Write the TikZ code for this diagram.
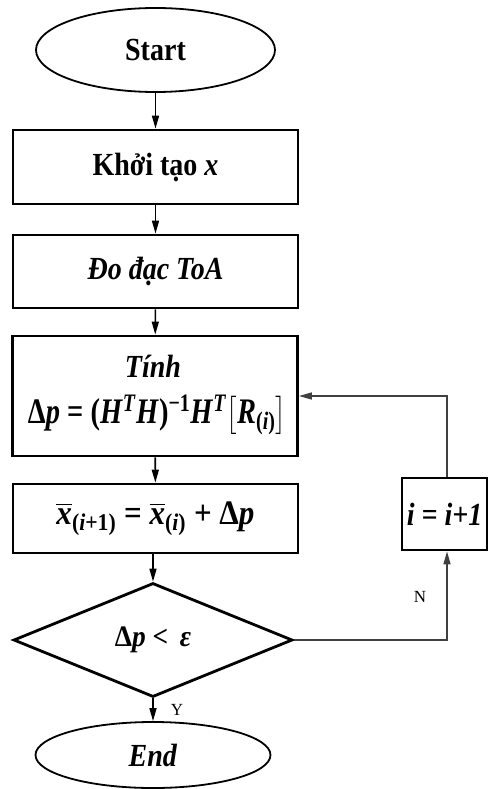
\documentclass[tikz,border=0pt]{standalone}
\usepackage{amsmath,graphicx}
\usepackage{fontspec}
\setmainfont{Liberation Serif}
\usetikzlibrary{shapes.geometric,arrows.meta}
\newcommand{\tall}[1]{\scalebox{1}[1.15]{#1}}
\newcommand{\xbar}{$\overline{\mbox{\textit{x}}}$}
\begin{document}
\begin{tikzpicture}[x=1pt,y=-1pt,
  big/.style={font=\fontsize{28}{32}\selectfont\bfseries},
  procbox/.style={draw,line width=2.8pt,rectangle,inner sep=0pt,big},
  term/.style={draw,line width=1.8pt,ellipse,inner sep=0pt,big},
  decide/.style={draw,line width=2.8pt,diamond,inner sep=0pt,big},
  flow/.style={line width=1.6pt,-{Triangle[length=13pt,width=7pt]}},
  loop/.style={line width=1.5pt,draw=black!75,-{Triangle[length=13pt,width=7pt]}},
  lab/.style={font=\fontsize{17}{19}\selectfont}
]
\useasboundingbox (0,0) rectangle (487,789);
\node[term,minimum width=239pt,minimum height=84pt] (start) at (155.5,50) {\tall{Start}};
\node[procbox,minimum width=285pt,minimum height=74pt] (init) at (155.5,167) {\tall{Khởi tạo \textit{x}}};
\node[procbox,minimum width=285pt,minimum height=73pt] (meas) at (155.5,271.5) {\tall{\textit{Đo đạc ToA}}};
\node[procbox,minimum width=285pt,minimum height=120pt] (calc) at (155,396) {};
\node[big] (calct) at (153,366) {\tall{\textit{Tính}}};
\node[big] (calcf) at (157,415) {\resizebox*{258pt}{40pt}{Δ\textit{p} = (\textit{H}\textsuperscript{\textit{T}}\textit{H})\textsuperscript{−1}\textit{H}\textsuperscript{\textit{T}}$\bigl[$\textit{R}\textsubscript{(\textit{i})}$\bigr]$}};
\node[procbox,minimum width=285pt,minimum height=69pt] (upd) at (155.5,518.5)
  {\resizebox*{198pt}{34pt}{\xbar\textsubscript{(\textit{i}+1)} = \xbar\textsubscript{(\textit{i})} + Δ\textit{p}}};
\node[decide,minimum width=279pt,minimum height=114pt] (dec) at (153,640) {\resizebox*{76pt}{26pt}{Δ\textit{p} <\, \textit{ε}}};
\node[term,minimum width=235pt,minimum height=66pt] (end) at (153,755) {\tall{\textit{End}}};
\node[procbox,minimum width=85pt,minimum height=72pt] (inc) at (444.5,514) {\tall{\textit{i = i+1}}};
\draw[flow] (start) -- (init);
\draw[flow] (init) -- (meas);
\draw[flow] (meas) -- (calc);
\draw[flow] (calc) -- (upd);
\draw[flow] (upd.south -| dec.north) -- (dec.north);
\draw[flow] (dec) -- (end);
\draw[loop] (dec.east) -| ([xshift=2.5pt]inc.south);
\draw[loop] ([xshift=2.5pt]inc.north) |- (calc.east);
\node[lab] (nlab) at (420,597) {N};
\node[lab] (ylab) at (177,710) {Y};
\end{tikzpicture}
\end{document}
